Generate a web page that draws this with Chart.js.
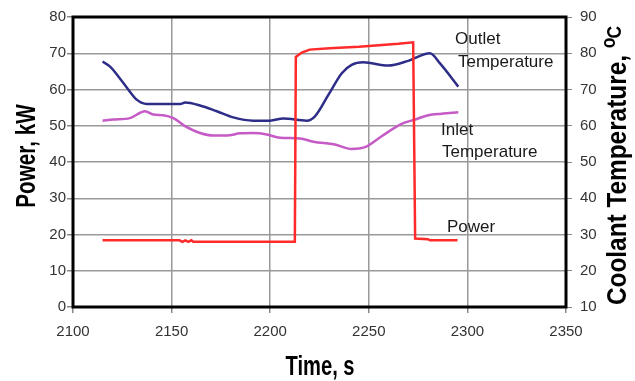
<!DOCTYPE html>
<html>
<head>
<meta charset="utf-8">
<script src="https://cdn.jsdelivr.net/npm/chart.js@4.4.1/dist/chart.umd.min.js"></script>
<style>
  html, body { margin: 0; padding: 0; background: #fff; }
  #wrap { width: 635px; height: 381px; }
</style>
</head>
<body>
<div id="wrap"><canvas id="chart" width="635" height="381"></canvas></div>
<script>
// x axis ticks (time, s) and the two y axes
const timeTicks = [2100, 2150, 2200, 2250, 2300, 2350];
const powerTicks = [0, 10, 20, 30, 40, 50, 60, 70, 80];
const tempTicks = [10, 20, 30, 40, 50, 60, 70, 80, 90];

// Power, kW (left axis)
const powerTime = [2115, 2154, 2155.5, 2157, 2158.5, 2160, 2161, 2212.5, 2213, 2216, 2220, 2230, 2245, 2255, 2265, 2272.5, 2273.5, 2280, 2281, 2295];
const powerKW   = [18.4, 18.4, 18.0, 18.4, 18.0, 18.4, 18.0, 18.0, 69.0, 70.2, 71.0, 71.4, 71.8, 72.2, 72.6, 73.0, 18.9, 18.7, 18.4, 18.4];

// Outlet temperature, C (right axis)
const outletTime = [2115, 2118.8, 2123, 2128, 2132.3, 2137.4, 2154.3, 2156.8, 2164.4, 2172.9, 2181.3, 2191.4, 2199.9, 2206.6, 2218.5, 2222.7, 2229.5, 2236.3, 2241.3, 2247.2, 2259.9, 2270, 2281, 2286.1, 2295.4];
const outletTemp = [77.7, 76.3, 73.6, 70.0, 67.2, 66.0, 66.0, 66.4, 65.6, 64.0, 62.3, 61.4, 61.4, 62.0, 61.4, 62.6, 68.5, 74.5, 76.8, 77.5, 76.6, 77.9, 80.0, 77.2, 70.8];

// Inlet temperature, C (right axis)
const inletTime = [2115, 2120.4, 2128.9, 2136.5, 2140.7, 2145.8, 2150.9, 2157.7, 2164.4, 2171.2, 2178, 2184.7, 2191.4, 2198.2, 2205, 2215.1, 2221.9, 2232.8, 2241.3, 2248, 2256.5, 2266.6, 2273.4, 2280.2, 2286.9, 2295.4];
const inletTemp = [61.4, 61.7, 62.1, 64.0, 63.1, 62.9, 62.1, 59.6, 58.0, 57.3, 57.3, 57.9, 58.0, 57.6, 56.7, 56.5, 55.6, 54.8, 53.6, 54.1, 57.1, 60.5, 61.7, 62.9, 63.3, 63.7];

const toPoints = (xs, ys) => xs.map((x, i) => ({ x: x, y: ys[i] }));

const FONT = "'Liberation Sans', Arimo, Arial, sans-serif";

// draw condensed bold text along a rotated baseline
function titleText(ctx, str, x, y, angle, size, align, squeeze) {
    ctx.save();
    ctx.translate(x, y);
    ctx.rotate(angle);
    ctx.scale(squeeze, 1);
    ctx.font = "bold " + size + "px " + FONT;
    ctx.textAlign = align;
    ctx.textBaseline = "alphabetic";
    ctx.fillText(str, 0, 0);
    ctx.restore();
}

// frame + in-plot labels + axis titles
const decorations = {
    id: "decorations",
    afterDraw(chart) {
        const ctx = chart.ctx;
        const a = chart.chartArea;
        ctx.save();
        ctx.strokeStyle = "#000";
        ctx.lineWidth = 3;
        ctx.strokeRect(a.left, a.top, a.right - a.left, a.bottom - a.top);

        ctx.fillStyle = "#1a1a1a";
        ctx.font = "17px " + FONT;
        ctx.textAlign = "left";
        ctx.textBaseline = "middle";
        ctx.fillText("Outlet", 455, 39);
        ctx.fillText("Temperature", 458, 62);
        ctx.fillText("Inlet", 441, 130);
        ctx.fillText("Temperature", 442, 152);
        ctx.fillText("Power", 447, 227);

        ctx.fillStyle = "#000";
        titleText(ctx, "Time, s", 320, 375, 0, 28, "center", 0.72);
        titleText(ctx, "Power, kW", 35, 156, -Math.PI / 2, 28, "center", 0.74);

        // right title, reading upward, with small raised "o" and "C"
        ctx.save();
        ctx.translate(626, 305);
        ctx.rotate(-Math.PI / 2);
        ctx.scale(0.87, 1);
        ctx.textAlign = "left";
        ctx.textBaseline = "alphabetic";
        const main = "Coolant Temperature, ";
        ctx.font = "bold 28px " + FONT;
        ctx.fillText(main, 0, 0);
        let x = ctx.measureText(main).width;
        ctx.font = "bold 20px " + FONT;
        ctx.fillText("o", x, -11);
        x += ctx.measureText("o").width - 1;
        ctx.fillText("C", x, -5);
        ctx.restore();

        ctx.restore();
    }
};

const lineStyle = { pointRadius: 0, borderWidth: 2.5, fill: false };
const plain = v => String(v);

function draw() {
    new Chart(document.getElementById("chart").getContext("2d"), {
        type: "line",
        data: {
            datasets: [
                Object.assign({ label: "Power", data: toPoints(powerTime, powerKW), borderColor: "#ff2a2a", yAxisID: "y", tension: 0 }, lineStyle),
                Object.assign({ label: "Outlet Temperature", data: toPoints(outletTime, outletTemp), borderColor: "#2e2e88", yAxisID: "y2", cubicInterpolationMode: "monotone" }, lineStyle),
                Object.assign({ label: "Inlet Temperature", data: toPoints(inletTime, inletTemp), borderColor: "#c65ac6", yAxisID: "y2", cubicInterpolationMode: "monotone" }, lineStyle)
            ]
        },
        options: {
            responsive: false,
            animation: false,
            layout: { padding: { top: 15, left: 0, right: 0, bottom: 0 } },
            plugins: { legend: { display: false }, tooltip: { enabled: false } },
            scales: {
                x: {
                    type: "linear",
                    min: timeTicks[0],
                    max: timeTicks[timeTicks.length - 1],
                    afterBuildTicks: s => { s.ticks = timeTicks.map(v => ({ value: v })); },
                    afterFit: s => { s.height = 74; },
                    border: { display: false },
                    grid: { color: "#999", lineWidth: 1.5, tickLength: 6, tickColor: "#888" },
                    ticks: { color: "#333", font: { size: 15, family: FONT }, padding: 10, maxRotation: 0, callback: plain }
                },
                y: {
                    position: "left",
                    min: 0,
                    max: 80,
                    afterBuildTicks: s => { s.ticks = powerTicks.map(v => ({ value: v })); },
                    afterFit: s => { s.width = 73; },
                    border: { display: false },
                    grid: { color: "#999", lineWidth: 1.5, tickLength: 6, tickColor: "#888" },
                    ticks: { color: "#333", font: { size: 15, family: FONT }, padding: 1, callback: plain }
                },
                y2: {
                    position: "right",
                    min: 10,
                    max: 90,
                    afterBuildTicks: s => { s.ticks = tempTicks.map(v => ({ value: v })); },
                    afterFit: s => { s.width = 69; },
                    border: { display: false },
                    grid: { drawOnChartArea: false, tickLength: 6, tickColor: "#888" },
                    ticks: { color: "#333", font: { size: 15, family: FONT }, padding: 8, callback: plain }
                }
            }
        },
        plugins: [decorations]
    });
}

document.fonts.load("15px 'Liberation Sans'").then(draw, draw);
</script>
</body>
</html>
